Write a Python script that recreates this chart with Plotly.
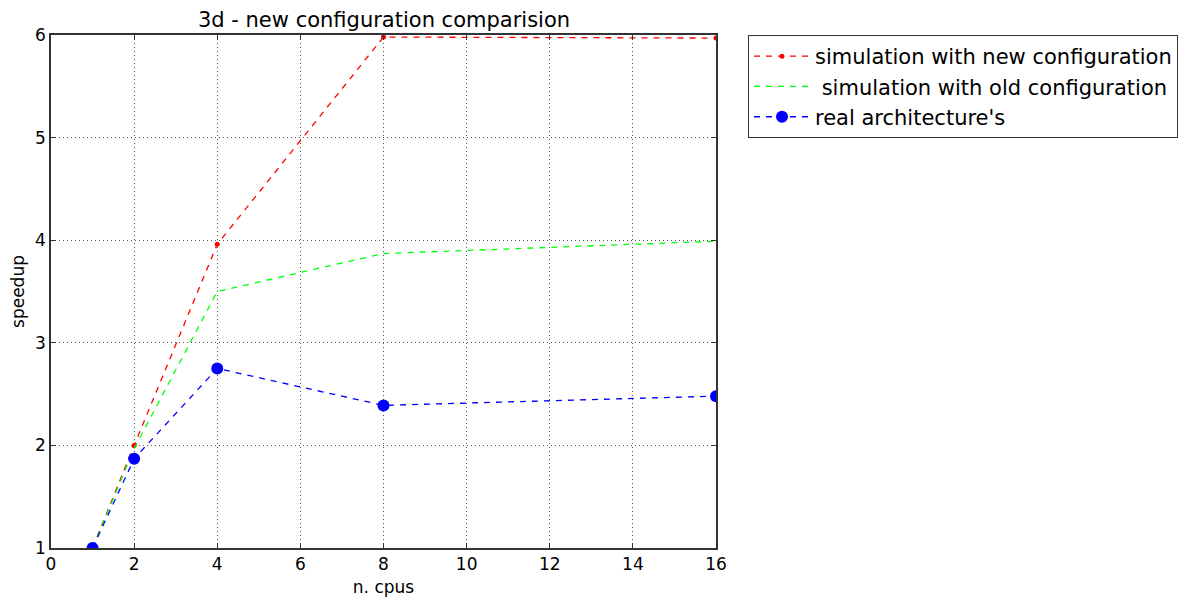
import plotly.graph_objects as go

cpus = [1, 2, 4, 8, 16]
new_config = [1.0, 2.0, 3.96, 5.98, 5.97]
old_config = [1.0, 1.97, 3.5, 3.87, 3.99]
real_arch = [1.0, 1.87, 2.75, 2.39, 2.48]

FONT = "DejaVu Sans"

fig = go.Figure()
fig.add_trace(go.Scatter(
    x=cpus, y=new_config, mode="lines+markers",
    name="simulation with new configuration",
    line=dict(color="#ff0000", width=1.3, dash="6px,6px"),
    marker=dict(color="#ff0000", size=5, symbol="circle"),
))
fig.add_trace(go.Scatter(
    x=cpus, y=old_config, mode="lines",
    name=" simulation with old configuration",
    line=dict(color="#00ff00", width=1.3, dash="6px,6px"),
))
fig.add_trace(go.Scatter(
    x=cpus, y=real_arch, mode="lines+markers",
    name="real architecture's",
    line=dict(color="#0000ff", width=1.3, dash="6px,6px"),
    marker=dict(color="#0000ff", size=12, symbol="circle"),
))

axis_common = dict(
    showline=True, linecolor="#333333", linewidth=1.5, mirror="ticks",
    ticks="inside", ticklen=5, tickcolor="#333333",
    showgrid=True, gridcolor="#555555", griddash="1px,3px", gridwidth=1,
    zeroline=False, automargin=False,
    tickfont=dict(family=FONT, size=17, color="black"),
)

fig.update_layout(
    width=1189, height=602,
    margin=dict(l=51, r=472, t=35, b=54),
    paper_bgcolor="white", plot_bgcolor="white",
    font=dict(family=FONT, color="black"),
    title=dict(text="3d - new configuration comparision", x=384 / 1189, xanchor="center",
               y=1 - 20 / 602, yanchor="middle", yref="container",
               font=dict(family=FONT, size=21, color="black")),
    xaxis=dict(range=[0, 16], dtick=2, title=dict(text="n. cpus", font=dict(size=17), standoff=8),
               **axis_common),
    yaxis=dict(range=[1, 6], dtick=1, title=dict(text="speedup", font=dict(size=17), standoff=6),
               **axis_common),
    legend=dict(x=(748 - 51) / 666, y=1.0, xanchor="left", yanchor="top",
                bordercolor="#333333", borderwidth=1, bgcolor="white",
                font=dict(family=FONT, size=21, color="black"),
                tracegroupgap=0, itemwidth=56),
    showlegend=True,
)

fig.write_html("out.html")
